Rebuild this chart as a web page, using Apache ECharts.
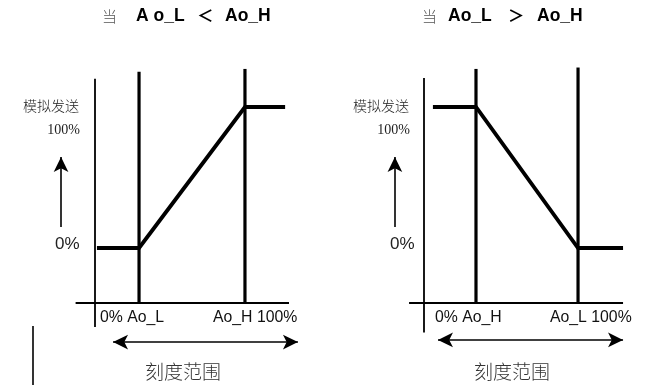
<!DOCTYPE html>
<html>
<head>
<meta charset="utf-8">
<script src="https://cdn.jsdelivr.net/npm/echarts@6/dist/echarts.min.js"></script>
<style>html,body{margin:0;padding:0;background:#fff}#c{width:646px;height:385px}</style>
</head>
<body>
<div id="c"></div>
<script>
// ---- data (percent units: x = scale range %, y = analog output %) ----
const leftTransferX = [1, 22.7, 77.3, 98];
const leftTransferY = [0, 0, 100, 100];
const leftMarkerX = [22.7, 77.3];      // Ao_L, Ao_H
const leftMarkerTop = [125, 127];
const rightTransferX = [4.6, 26.8, 79.4, 102.6];
const rightTransferY = [100, 100, 0, 0];
const rightMarkerX = [26.8, 79.4];     // Ao_H, Ao_L
const rightMarkerTop = [127, 128];
const baseY = -39;                     // x axis level
const leftAxisX = [-10, 100];
const leftAxisY = [-56, 120];
const rightAxisX = [-7.7, 102.6];
const rightAxisY = [-60, 120.6];
const upArrowY = [14.9, 64.5];
const leftUpArrowX = -17.5, rightUpArrowX = -15;
const leftRangeArrow = [9.3, 104.6], leftRangeY = -66.7;
const rightRangeArrow = [7.2, 102.6], rightRangeY = -65.2;
const titleLeft = ['当', 'A o_L', '＜', 'Ao_H'];
const titleRight = ['当', 'Ao_L', '＞', 'Ao_H'];
const leftTicks = ['0% Ao_L', 'Ao_H 100%'];
const rightTicks = ['0% Ao_H', 'Ao_L 100%'];

const chart = echarts.init(document.getElementById('c'));
const BLK = '#000';
function seg(gi, pts, w) {
  return { type: 'line', xAxisIndex: gi, yAxisIndex: gi, data: pts, showSymbol: false, symbol: 'none',
    clip: false, silent: true, animation: false, lineStyle: { color: BLK, width: w, join: 'miter' } };
}
function arrows(gi, upX, rangeX, rangeY) {
  return { type: 'line', xAxisIndex: gi, yAxisIndex: gi, data: [], silent: true, animation: false,
    markLine: { silent: true, animation: false, symbol: ['none', 'arrow'], symbolSize: [11, 15],
      label: { show: false }, lineStyle: { color: BLK, width: 1.6, type: 'solid' },
      data: [
        [{ coord: [upX, upArrowY[0]], symbol: 'none' }, { coord: [upX, upArrowY[1]], symbol: 'arrow' }],
        [{ coord: [rangeX[0], rangeY], symbol: 'arrow' }, { coord: [rangeX[1], rangeY], symbol: 'arrow' }]
      ] } };
}
function panel(gi, tx, ty, mx, mt, ax, ay, upX, rX, rY) {
  const s = [];
  s.push(seg(gi, [[0, ay[0]], [0, ay[1]]], 1.8));
  s.push(seg(gi, [[ax[0], baseY], [ax[1], baseY]], 1.8));
  mx.forEach((x, i) => s.push(seg(gi, [[x, baseY], [x, mt[i]]], 3.2)));
  s.push(seg(gi, tx.map((x, i) => [x, ty[i]]), 3.8));
  s.push(arrows(gi, upX, rX, rY));
  return s;
}
const series = [].concat(
  panel(0, leftTransferX, leftTransferY, leftMarkerX, leftMarkerTop, leftAxisX, leftAxisY, leftUpArrowX, leftRangeArrow, leftRangeY),
  panel(1, rightTransferX, rightTransferY, rightMarkerX, rightMarkerTop, rightAxisX, rightAxisY, rightUpArrowX, rightRangeArrow, rightRangeY)
);
const ax = (i) => ({ type: 'value', gridIndex: i, min: -40, max: 110, show: false });
const ay = (i) => ({ type: 'value', gridIndex: i, min: -80, max: 140, show: false });

const SANS = 'Liberation Sans, Arial, sans-serif';
const CJK = 'Noto Sans CJK SC';
function txt(text, x, y, size, opts) {
  opts = opts || {};
  return { type: 'text', x: x, y: y, silent: true, style: {
    text: text, fontSize: size, fontFamily: opts.family || SANS, fontWeight: opts.weight || 'normal',
    fill: opts.color || '#000', align: opts.align || 'left', verticalAlign: 'middle' } };
}
const graphic = [
  txt(titleLeft[0], 102, 16, 15, { family: CJK, color: '#555', weight: 300 }),
  txt(titleLeft[1], 136, 16, 17.5, { weight: 'bold' }),
  txt(titleLeft[2], 197, 16, 16.5, { family: CJK, weight: 'bold' }),
  txt(titleLeft[3], 225, 16, 17.5, { weight: 'bold' }),
  txt(titleRight[0], 422, 16, 15, { family: CJK, color: '#555', weight: 300 }),
  txt(titleRight[1], 448, 16, 17.5, { weight: 'bold' }),
  txt(titleRight[2], 508, 16, 16.5, { family: CJK, weight: 'bold' }),
  txt(titleRight[3], 537, 16, 17.5, { weight: 'bold' }),
  txt('模拟发送', 79, 106, 14, { family: CJK, align: 'right', color: '#222', weight: 300 }),
  txt('100%', 80, 130, 14, { family: 'Liberation Serif, serif', align: 'right', color: '#222' }),
  txt('0%', 55, 244, 17, { color: '#222' }),
  txt('模拟发送', 409, 106, 14, { family: CJK, align: 'right', color: '#222', weight: 300 }),
  txt('100%', 410, 130, 14, { family: 'Liberation Serif, serif', align: 'right', color: '#222' }),
  txt('0%', 390, 244, 17, { color: '#222' }),
  txt(leftTicks[0], 100, 318, 15.8, { color: '#111' }),
  txt(leftTicks[1], 213, 318, 15.8, { color: '#111' }),
  txt(rightTicks[0], 435, 318, 15.8, { color: '#111' }),
  txt(rightTicks[1], 550, 318, 15.8, { color: '#111' }),
  txt('刻度范围', 183, 372, 19, { family: CJK, align: 'center', color: '#333', weight: 300 }),
  txt('刻度范围', 512, 372, 19, { family: CJK, align: 'center', color: '#333', weight: 300 }),
  { type: 'line', silent: true, shape: { x1: 33, y1: 326, x2: 33, y2: 385 }, style: { stroke: '#000', lineWidth: 1.6 } }
];

chart.setOption({
  backgroundColor: '#fff',
  animation: false,
  grid: [
    { left: 17.4, top: 50.6, width: 291, height: 310.2 },
    { left: 346.4, top: 50.6, width: 291, height: 310.2 }
  ],
  xAxis: [ax(0), ax(1)],
  yAxis: [ay(0), ay(1)],
  series: series,
  graphic: graphic
});
</script>
</body>
</html>
